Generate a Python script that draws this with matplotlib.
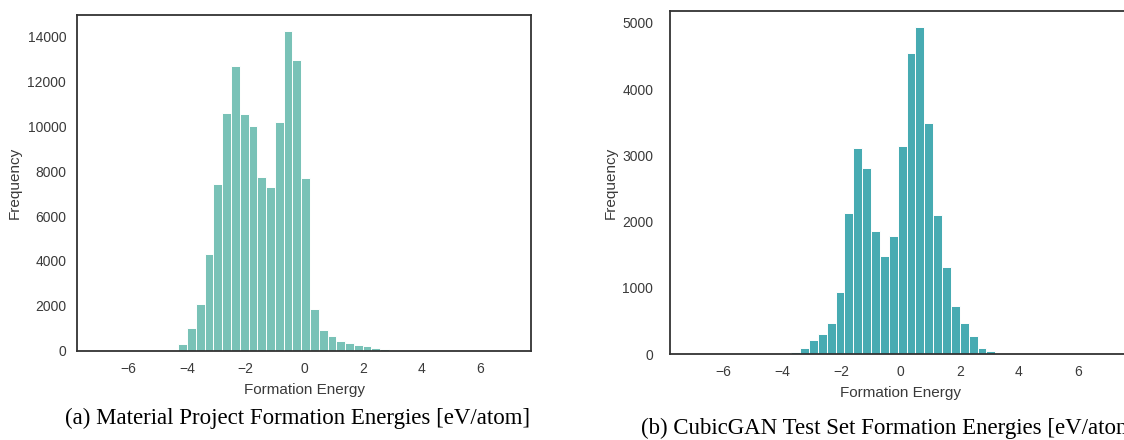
import numpy as np
import matplotlib.pyplot as plt

plt.rcParams['font.family'] = ['Liberation Sans', 'DejaVu Sans']

# histogram counts, bin width 0.3 eV/atom
bin_width = 0.3

# (a) Materials Project, bins start at -4.3
mp_first_edge = -4.3
mp_counts = [300, 1000, 2080, 4300, 7440, 10600, 12680, 10550, 10030, 7760,
             7300, 10190, 14270, 12960, 7680, 1870, 930, 650, 450, 330,
             240, 190, 120, 80, 50]

# (b) CubicGAN test set, bins start at -3.7
cg_first_edge = -3.7
cg_counts = [30, 100, 216, 302, 468, 936, 2124, 3112, 2810, 1862,
             1485, 1777, 3136, 4547, 4940, 3484, 2094, 1314, 734, 468,
             276, 100, 50]

xticks = [-6, -4, -2, 0, 2, 4, 6]
mp_yticks = [0, 2000, 4000, 6000, 8000, 10000, 12000, 14000]
cg_yticks = [0, 1000, 2000, 3000, 4000, 5000]

captions = ['(a) Material Project Formation Energies [eV/atom]',
            '(b) CubicGAN Test Set Formation Energies [eV/atom]']

fig = plt.figure(figsize=(11.24, 4.4), dpi=100)
ax1 = fig.add_axes([0.0688, 0.203, 0.4036, 0.764])
ax2 = fig.add_axes([0.596, 0.195, 0.4106, 0.781])

panels = [
    (ax1, mp_first_edge, mp_counts, '#79c2b7', mp_yticks, 7.75, 8, 4),
    (ax2, cg_first_edge, cg_counts, '#47abb2', cg_yticks, 7.8, 12, 3),
]

for ax, start, counts, color, yticks, xmax, ypad, ylpad in panels:
    lefts = start + bin_width * np.arange(len(counts))
    ax.bar(lefts, counts, width=bin_width, align='edge', color=color,
           edgecolor='white', linewidth=0.7)
    ax.set_xlim(-xmax, xmax)
    ax.set_ylim(0, max(counts) * 1.05)
    ax.set_xticks(xticks)
    ax.set_yticks(yticks)
    ax.tick_params(length=0, labelsize=10, colors='#3a3a3a')
    ax.tick_params(axis='x', pad=8)
    ax.tick_params(axis='y', pad=ypad)
    ax.set_xlabel('Formation Energy', fontsize=11, color='#3a3a3a', labelpad=5)
    ax.set_ylabel('Frequency', fontsize=11, color='#3a3a3a', labelpad=ylpad)
    for sp in ax.spines.values():
        sp.set_color('#333333')
        sp.set_linewidth(1.3)

fig.text(0.2645, 0.05, captions[0], fontsize=16.5, family='Liberation Serif',
         ha='center', va='center', color='black')
fig.text(0.570, 0.027, captions[1], fontsize=16.5, family='Liberation Serif',
         ha='left', va='center', color='black')

plt.savefig('out.png', dpi=100)
